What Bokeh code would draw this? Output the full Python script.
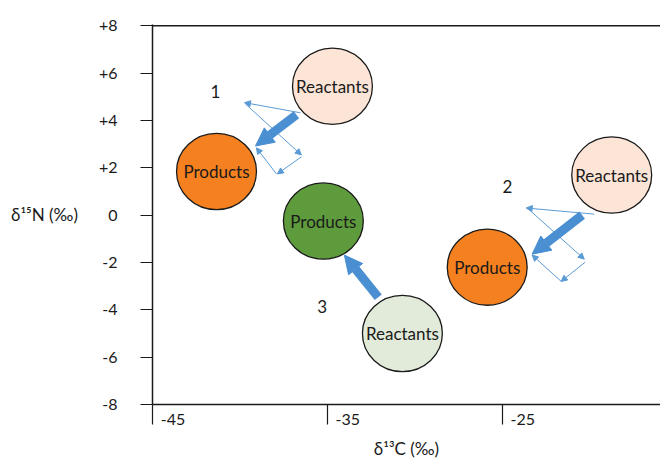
from bokeh.plotting import figure
from bokeh.models import (Range1d, FixedTicker, Span, Arrow, NormalHead,
                          ColumnDataSource)
from bokeh.core.properties import value
from bokeh.embed import file_html
from bokeh.resources import INLINE

# ---------------- data ----------------
x_ticks = [-45, -35, -25]
x_tick_labels = ["-45", "-35", "-25"]
y_ticks = [8, 6, 4, 2, 0, -2, -4, -6, -8]
y_tick_labels = ["+8", "+6", "+4", "+2", "0", "-2", "-4", "-6", "-8"]

circle_names = ["Reactants", "Products", "Products", "Reactants", "Products", "Reactants"]
circle_d13c = [-34.71, -41.34, -35.23, -30.71, -25.86, -18.74]
circle_d15n = [5.44, 1.84, -0.25, -5.0, -2.20, 1.69]
circle_colors = ["#fce4d6", "#f4801f", "#5e9b3c", "#e2ebd9", "#f4801f", "#fce4d6"]

path_labels = ["1", "2", "3"]
path_label_d13c = [-41.4, -24.71, -35.29]
path_label_d15n = [5.21, 1.19, -3.86]

shift_start_d13c = [-36.77, -20.43, -32.09]
shift_start_d15n = [4.24, 0.0, -3.47]
shift_end_d13c = [-39.11, -23.29, -34.03]
shift_end_d15n = [2.92, -1.65, -1.69]

vec_start_d13c = [-36.54, -39.69, -36.49, -37.91, -19.74, -23.57, -20.26, -21.63]
vec_start_d15n = [4.32, 4.70, 2.46, 1.74, 0.04, 0.30, -1.99, -2.80]
vec_end_d13c = [-39.74, -36.49, -37.86, -39.06, -23.63, -20.31, -21.63, -23.29]
vec_end_d15n = [4.75, 2.54, 1.74, 2.84, 0.30, -1.86, -2.80, -1.69]

FONT = "Lato"
INK = "#1a1a1a"
BLUE = "#4a8fd2"
THIN = "#5b9bd5"
PAD = "\u00a0" * 10   # pushes the x tick labels to the right of their ticks

p = figure(width=660, height=462, output_backend="svg", toolbar_location=None,
           x_range=Range1d(-45, -15.95), y_range=Range1d(-8, 8.05),
           min_border_left=152, min_border_top=24, min_border_bottom=58,
           min_border_right=0)
p.outline_line_color = None
p.grid.visible = False
p.background_fill_color = "white"

# y axis
ya = p.yaxis[0]
ya.ticker = FixedTicker(ticks=y_ticks)
ya.major_label_overrides = dict(zip(y_ticks, y_tick_labels))
ya.major_tick_out = 12
ya.major_tick_in = 0
ya.minor_tick_line_color = None
ya.axis_line_width = 1.5
ya.axis_line_color = INK
ya.major_tick_line_color = INK
ya.major_tick_line_width = 1.2
ya.major_label_standoff = 23
ya.major_label_text_font = FONT
ya.major_label_text_font_size = "16px"
ya.major_label_text_color = INK
ya.axis_label = "δ¹⁵N (‰)"
ya.axis_label_orientation = "horizontal"
ya.axis_label_text_font = FONT
ya.axis_label_text_font_style = "normal"
ya.axis_label_text_font_size = "17px"
ya.axis_label_text_color = INK
ya.axis_label_standoff = 18

# x axis
xa = p.xaxis[0]
xa.ticker = FixedTicker(ticks=x_ticks)
xa.major_label_overrides = {t: PAD + s for t, s in zip(x_ticks, x_tick_labels)}
xa.major_tick_out = 20
xa.major_tick_in = 0
xa.minor_tick_line_color = None
xa.axis_line_width = 1.5
xa.axis_line_color = INK
xa.major_tick_line_color = INK
xa.major_tick_line_width = 1.2
xa.major_label_standoff = -16
xa.major_label_text_font = FONT
xa.major_label_text_font_size = "16px"
xa.major_label_text_color = INK
xa.axis_label = "δ¹³C (‰)"
xa.axis_label_text_font = FONT
xa.axis_label_text_font_style = "normal"
xa.axis_label_text_font_size = "17px"
xa.axis_label_text_color = INK
xa.axis_label_standoff = 7

# top line
p.add_layout(Span(location=y_ticks[0], dimension="width", line_color=INK, line_width=1.5))

# circles
c_src = ColumnDataSource(dict(x=circle_d13c, y=circle_d15n, name=circle_names, color=circle_colors))
p.ellipse(x="x", y="y", width=4.57, height=3.22, source=c_src,
          fill_color="color", line_color=INK, line_width=1.3)
p.text(x="x", y="y", text="name", source=c_src, text_align="center",
       text_baseline="middle", text_font=value(FONT), text_font_size="17px",
       text_color=INK)

# path labels
p.text(x=path_label_d13c, y=path_label_d15n, text=path_labels, text_align="center",
       text_baseline="middle", text_font=value(FONT), text_font_size="17px",
       text_color=INK)

# thin component vectors
v_src = ColumnDataSource(dict(x0=vec_start_d13c, y0=vec_start_d15n,
                              x1=vec_end_d13c, y1=vec_end_d15n))
p.add_layout(Arrow(x_start="x0", y_start="y0", x_end="x1", y_end="y1", source=v_src,
                   line_color=THIN, line_width=1,
                   end=NormalHead(size=6, fill_color=THIN, line_color=THIN, line_width=1)))

# thick shift arrows
s_src = ColumnDataSource(dict(x0=shift_start_d13c, y0=shift_start_d15n,
                              x1=shift_end_d13c, y1=shift_end_d15n))
p.add_layout(Arrow(x_start="x0", y_start="y0", x_end="x1", y_end="y1", source=s_src,
                   line_color=BLUE, line_width=9, line_cap="butt",
                   end=NormalHead(size=18, fill_color=BLUE, line_color=BLUE, line_width=1)))

open("out.html", "w").write(file_html(p, INLINE))
